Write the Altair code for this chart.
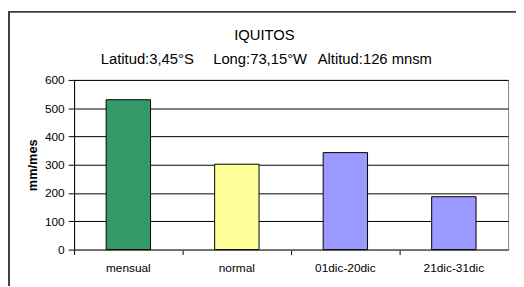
import altair as alt
import pandas as pd

categories = ["mensual", "normal", "01dic-20dic", "21dic-31dic"]
values = [530, 302, 343, 187]
colors = ["#339966", "#FFFF99", "#9999FF", "#9999FF"]
y_ticks = [0, 100, 200, 300, 400, 500, 600]
title_text = "IQUITOS"
subtitle_parts = ["Latitud:3,45°S", "Long:73,15°W", "Altitud:126 mnsm"]

df = pd.DataFrame({"cat": categories, "val": values})
FONT = "Liberation Sans"
W, H = 440, 172

x_enc = alt.X("cat:N", sort=categories,
              scale=alt.Scale(domain=categories, paddingInner=0, paddingOuter=0),
              axis=alt.Axis(title=None, labels=False, ticks=True, tickSize=5,
                            bandPosition=0, tickColor="#000000", domainColor="#808080",
                            grid=False))

frame = alt.Chart(alt.Data(values=[{"a": 1}])).mark_rect(
    fill="transparent", stroke="#404040", strokeWidth=2
).encode(x=alt.value(-66), x2=alt.value(W + 20), y=alt.value(-69), y2=alt.value(H + 50))

bars = alt.Chart(df).mark_bar(width=45, stroke="#000000", strokeWidth=1).encode(
    x=x_enc,
    y=alt.Y("val:Q", scale=alt.Scale(domain=[0, 600], nice=False),
            axis=alt.Axis(title="mm/mes", values=y_ticks, grid=True, gridColor="#000000",
                          gridOpacity=1, tickSize=6, tickColor="#000000",
                          domainColor="#000000", labelPadding=4, labelFontSize=12,
                          labelFont=FONT, labelColor="#000000", titleFont=FONT,
                          titleFontSize=13, titleFontWeight="bold", titleColor="#000000",
                          titlePadding=5)),
    color=alt.Color("cat:N", scale=alt.Scale(domain=categories, range=colors), legend=None),
)

xlabels = alt.Chart(df).mark_text(font=FONT, fontSize=12, color="#000000", baseline="alphabetic").encode(
    x=alt.X("cat:N", sort=categories),
    y=alt.value(H + 23),
    text="cat:N",
)

title = alt.Chart(alt.Data(values=[{"t": title_text}])).mark_text(
    font=FONT, fontSize=15, color="#000000", align="center", baseline="alphabetic"
).encode(x=alt.value(193), y=alt.value(-40), text="t:N")

sub_df = pd.DataFrame({"t": subtitle_parts, "px": [27, 141, 247]})
subtitle = alt.Chart(sub_df).mark_text(
    font=FONT, fontSize=15, color="#000000", align="left", baseline="alphabetic"
).encode(x=alt.X("px:Q", scale=None), y=alt.value(-16), text="t:N")

chart = alt.layer(frame, bars, xlabels, title, subtitle).properties(
    width=W, height=H,
    autosize=alt.AutoSizeParams(type="none"),
    padding={"left": 67, "top": 71, "right": 8, "bottom": 35},
    background="#ffffff",
).configure_view(stroke="#808080", strokeWidth=1).configure_axis(labelFont=FONT)

chart.save("out.html", embed_options={"renderer": "svg", "actions": False})
